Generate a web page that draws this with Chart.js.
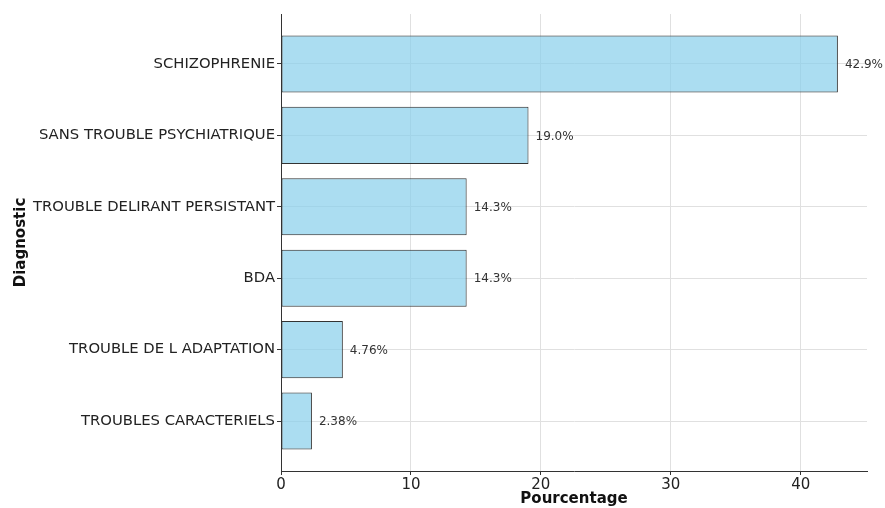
<!DOCTYPE html>
<html>
<head>
<meta charset="utf-8">
<script src="https://cdn.jsdelivr.net/npm/chart.js@4"></script>
<style>
  html, body { margin: 0; padding: 0; background: #fff; }
  #wrap { width: 885px; height: 508px; }
</style>
</head>
<body>
<div id="wrap"><canvas id="diagChart" width="885" height="508"></canvas></div>
<script>
const categories = [
  "SCHIZOPHRENIE",
  "SANS TROUBLE PSYCHIATRIQUE",
  "TROUBLE DELIRANT PERSISTANT",
  "BDA",
  "TROUBLE DE L ADAPTATION",
  "TROUBLES CARACTERIELS",
];
const percents = [42.86, 19.05, 14.29, 14.29, 4.76, 2.38];
const percentLabels = ["42.9%", "19.0%", "14.3%", "14.3%", "4.76%", "2.38%"];
const xTicks = [0, 10, 20, 30, 40];

const font = "'DejaVu Sans', sans-serif";

// writes the percentage next to the end of each bar
const barLabels = {
  id: "barLabels",
  afterDatasetsDraw(chart) {
    const ctx = chart.ctx;
    const meta = chart.getDatasetMeta(0);
    ctx.save();
    ctx.font = "12px " + font;
    ctx.fillStyle = "#333";
    ctx.textAlign = "left";
    ctx.textBaseline = "middle";
    meta.data.forEach((bar, i) => {
      ctx.fillText(percentLabels[i], bar.x + 7, bar.y + 1);
    });
    ctx.restore();
  },
};

const ctx = document.getElementById("diagChart").getContext("2d");
new Chart(ctx, {
  type: "bar",
  data: {
    datasets: [
      {
        data: percents.map((v, i) => ({ x: v, y: i })),
        backgroundColor: "rgba(135, 206, 235, 0.7)",
        borderColor: "#333",
        borderWidth: 1,
        borderSkipped: false,
        barPercentage: 0.8,
        categoryPercentage: 1,
      },
    ],
  },
  options: {
    indexAxis: "y",
    responsive: false,
    animation: false,
    layout: { padding: { top: 14, right: 18, left: 12, bottom: 0 } },
    plugins: {
      legend: { display: false },
      tooltip: { enabled: false },
    },
    scales: {
      x: {
        type: "linear",
        min: 0,
        max: 45.1,
        afterBuildTicks: (scale) => {
          scale.ticks = xTicks.map((v) => ({ value: v }));
        },
        afterFit: (scale) => {
          scale.height = 37;
        },
        grid: {
          color: "#e0e0e0",
          lineWidth: 1,
          tickColor: "#333",
          tickLength: 4,
        },
        border: { color: "#333", width: 1 },
        ticks: { color: "#222", font: { family: font, size: 15 }, padding: 1 },
        title: {
          display: true,
          text: "Pourcentage",
          color: "#111",
          font: { family: font, size: 15, weight: "bold" },
          padding: { top: -1, bottom: 0 },
        },
      },
      y: {
        type: "linear",
        reverse: true,
        offset: false,
        min: -0.7,
        max: 5.7,
        afterBuildTicks: (scale) => {
          scale.ticks = categories.map((c, i) => ({ value: i }));
        },
        afterFit: (scale) => {
          scale.width = 269;
        },
        grid: {
          offset: false,
          color: "#e0e0e0",
          lineWidth: 1,
          tickColor: "#333",
          tickLength: 4,
        },
        border: { color: "#333", width: 1 },
        ticks: {
          color: "#222",
          font: { family: font, size: 14.8 },
          padding: 2,
          callback: (v) => categories[v],
        },
        title: {
          display: true,
          text: "Diagnostic",
          color: "#111",
          font: { family: font, size: 15, weight: "bold" },
          padding: { top: 0, bottom: 0 },
        },
      },
    },
  },
  plugins: [barLabels],
});
</script>
</body>
</html>
